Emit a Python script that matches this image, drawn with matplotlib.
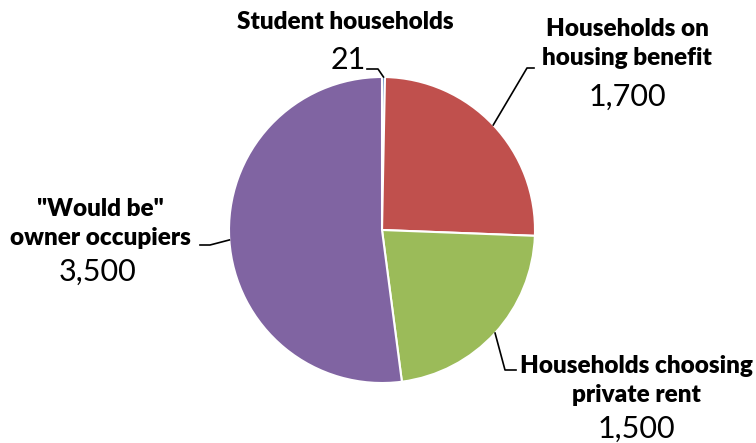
import numpy as np
import matplotlib.pyplot as plt

plt.rcParams.update({
    'font.family': ['Lato', 'DejaVu Sans'],
})

labels = ['Student households', 'Households on\nhousing benefit',
          'Households choosing\nprivate rent', '"Would be"\nowner occupiers']
values = [21, 1700, 1500, 3500]
value_text = ['21', '1,700', '1,500', '3,500']
colors = ['#4F81BD', '#C0504D', '#9BBB59', '#8064A2']

W, H = 756, 443
fig = plt.figure(figsize=(W / 100, H / 100), dpi=100)

# pie centre and radius in pixels
cx, cy, r = 382, 230, 153
half = 160
ax = fig.add_axes([(cx - half) / W, (H - cy - half) / H, 2 * half / W, 2 * half / H])
lim = half / r

wedges, _ = ax.pie(values, colors=colors, startangle=90, counterclock=False,
                   radius=1, wedgeprops=dict(edgecolor='white', linewidth=1.5),
                   frame=False)
ax.set_xlim(-lim, lim)
ax.set_ylim(-lim, lim)
ax.set_aspect('equal')
ax.axis('off')


def px(x, y):
    # pixel (from top-left) -> data coordinates
    return ((x - cx) / r, (cy - y) / r)


def mid_point(w, rad=1.0):
    a = np.deg2rad((w.theta1 + w.theta2) / 2)
    return rad * np.cos(a), rad * np.sin(a)


# label positions (pixels): name centre, value centre, leader path end points
layout = [
    dict(name=(345, 22), val=(348, 60), path=[(367, 69), (378, 69)]),
    dict(name=(627, 43.5), val=(627, 97), path=[(534, 68), (527, 68)]),
    dict(name=(636, 380.5), val=(636, 429), path=[(516, 370), (505, 370)]),
    dict(name=(100, 223.5), val=(98, 272), path=[(200, 245), (210, 245)]),
]

for w, lab, vt, lay in zip(wedges, labels, value_text, layout):
    nx, ny = px(*lay['name'])
    vx, vy = px(*lay['val'])
    ax.text(nx, ny, lab, ha='center', va='center', fontsize=17.5,
            fontweight='heavy', linespacing=1.35, clip_on=False)
    ax.text(vx, vy, vt, ha='center', va='center', fontsize=22, clip_on=False)
    pts = [px(*p) for p in lay['path']]
    ex, ey = mid_point(w)
    xs = [p[0] for p in pts] + [ex]
    ys = [p[1] for p in pts] + [ey]
    ax.plot(xs, ys, color='black', lw=1.2, clip_on=False)

fig.savefig('out.png', dpi=100)
